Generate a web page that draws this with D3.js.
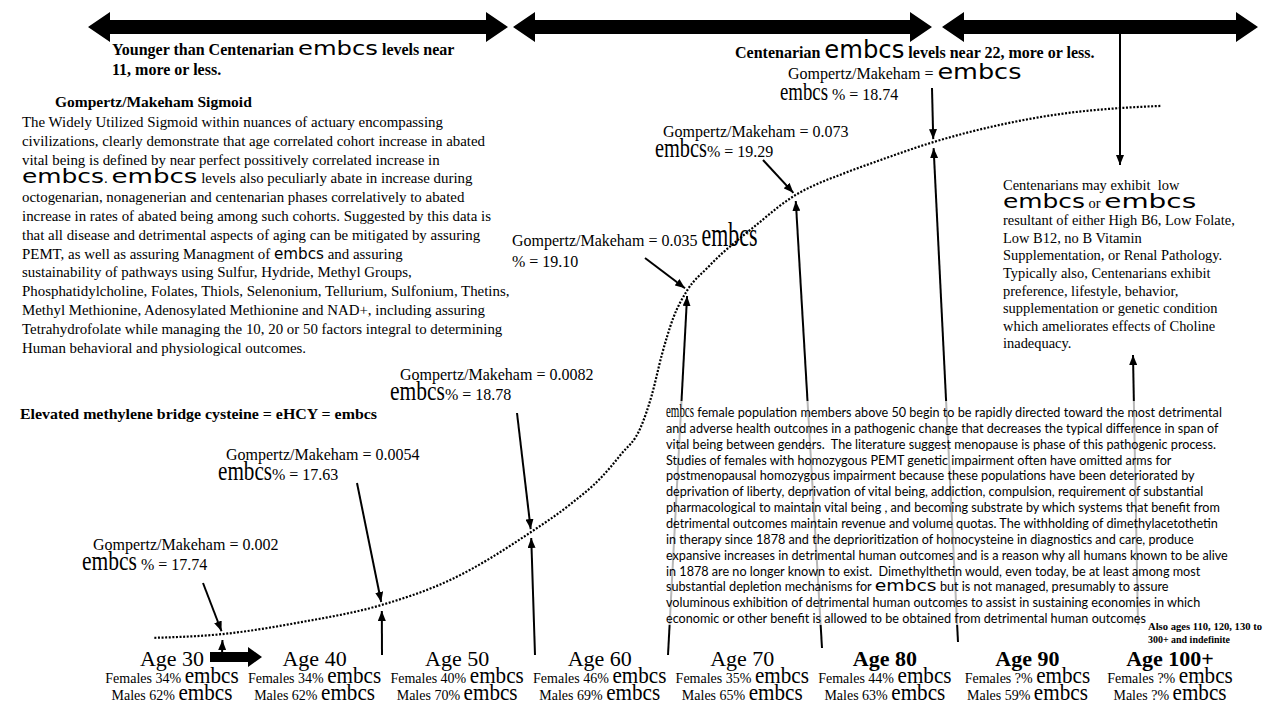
<!DOCTYPE html>
<html><head><meta charset="utf-8">
<script src="https://cdn.jsdelivr.net/npm/d3@7"></script>
<style>body{margin:0;background:#fff}svg{display:block}</style>
</head><body>
<svg id="chart" width="1280" height="720"></svg>
<script>
// ---------------- DATA ----------------
const ageLabels = ["Age 30","Age 40","Age 50","Age 60","Age 70","Age 80","Age 90","Age 100+"];
const ageBold   = [false,false,false,false,false,true,true,true];
const femalePct = ["34%","34%","40%","46%","35%","44%","?%","?%"];
const malePct   = ["62%","62%","70%","69%","65%","63%","59%","?%"];
// Gompertz/Makeham sigmoid (dotted curve): x in age units, y in relative level (0-100)
const curveAge   = [28.9,33.7,39.2,44.9,49.7,55.4,58.1,60.3,61.7,63.1,63.9,64.6,65.4,66.4,67.8,68.8,70.1,71.5,72.8,74.0,75.4,77.1,80.0,83.7,88.4,92.6,96.8,99.7];
const curveLevel = [0.4,1.1,3.3,6.5,11.1,20.0,25.0,30.0,34.3,39.3,45.4,52.8,59.6,64.8,68.9,71.5,74.4,77.4,80.2,82.4,84.3,86.1,88.9,92.2,95.4,97.4,98.5,98.9];
// annotated points on the curve
const markerAge      = [33.7,44.9,55.4,66.4,74.0,83.7,96.8];
const gompertzValues = ["0.002","0.0054","0.0082","0.035","0.073","embcs"];
const embcsPercents  = ["17.74","17.63","18.78","19.10","19.29","18.74"];

const leftLines = [
 "The Widely Utilized Sigmoid within nuances of actuary encompassing",
 "civilizations, clearly demonstrate that age correlated cohort increase in abated",
 "vital being is defined by near perfect possitively correlated increase in",
 "{E}. {E} levels also peculiarly abate in increase during",
 "octogenarian, nonagenerian and centenarian phases correlatively to abated",
 "increase in rates of abated being among such cohorts. Suggested by this data is",
 "that all disease and detrimental aspects of aging can be mitigated by assuring",
 "PEMT, as well as assuring Managment of {E} and assuring",
 "sustainability of pathways using Sulfur, Hydride, Methyl Groups,",
 "Phosphatidylcholine, Folates, Thiols, Selenonium, Tellurium, Sulfonium, Thetins,",
 "Methyl Methionine, Adenosylated Methionine and NAD+, including assuring",
 "Tetrahydrofolate while managing the 10, 20 or 50 factors integral to determining",
 "Human behavioral and physiological outcomes."
];
const rightLines = [
 "Centenarians may exhibit  low",
 "{E} or {E}",
 "resultant of either High B6, Low Folate,",
 "Low B12, no B Vitamin",
 "Supplementation, or Renal Pathology.",
 "Typically also, Centenarians exhibit",
 "preference, lifestyle, behavior,",
 "supplementation or genetic condition",
 "which ameliorates effects of Choline",
 "inadequacy."
];
const midLines = [
 "{E} female population members above 50 begin to be rapidly directed toward the most detrimental",
 "and adverse health outcomes in a pathogenic change that decreases the typical difference in span of",
 "vital being between genders.  The literature suggest menopause is phase of this pathogenic process.",
 "Studies of females with homozygous PEMT genetic impairment often have omitted arms for",
 "postmenopausal homozygous impairment because these populations have been deteriorated by",
 "deprivation of liberty, deprivation of vital being, addiction, compulsion, requirement of substantial",
 "pharmacological to maintain vital being , and becoming substrate by which systems that benefit from",
 "detrimental outcomes maintain revenue and volume quotas. The withholding of dimethylacetothetin",
 "in therapy since 1878 and the deprioritization of homocysteine in diagnostics and care, produce",
 "expansive increases in detrimental human outcomes and is a reason why all humans known to be alive",
 "in 1878 are no longer known to exist.  Dimethylthetin would, even today, be at least among most",
 "substantial depletion mechanisms for {E} but is not managed, presumably to assure",
 "voluminous exhibition of detrimental human outcomes to assist in sustaining economies in which",
 "economic or other benefit is allowed to be obtained from detrimental human outcomes"
];

// ---------------- SETUP ----------------
const SERIF = "'Liberation Serif','Times New Roman',serif";
const SANS  = "Lato,'Open Sans',sans-serif";
const WIDE  = "'DejaVu Sans',sans-serif";
const svg = d3.select("#chart");
const x = d3.scaleLinear().domain([30,100]).range([170,1165]);
const y = d3.scaleLinear().domain([0,100]).range([640,100]);
const ageX = d3.scalePoint().domain(ageLabels).range([172,1170]);

const defs = svg.append("defs");
defs.append("marker").attr("id","ah").attr("viewBox","0 0 10 8")
  .attr("refX",10).attr("refY",4).attr("markerWidth",10).attr("markerHeight",8)
  .attr("markerUnits","userSpaceOnUse").attr("orient","auto")
  .append("path").attr("d","M0,0L10,4L0,8Z").attr("fill","#000");

function levelAt(a){
  const i = d3.bisectLeft(curveAge, a);
  if (i<=0) return curveLevel[0];
  if (i>=curveAge.length) return curveLevel[curveLevel.length-1];
  const t = (a-curveAge[i-1])/(curveAge[i]-curveAge[i-1]);
  return curveLevel[i-1]+t*(curveLevel[i]-curveLevel[i-1]);
}

function piece(g, px, py, s, st){
  const t = g.append("text").attr("x",px).attr("y",py)
    .attr("font-family",st.ff).attr("font-size",st.fs).attr("font-weight",st.fw||400)
    .style("white-space","pre").attr("fill","#000").text(s);
  if (st.ls) t.attr("letter-spacing",st.ls);
  if (st.w){ t.attr("textLength",st.w).attr("lengthAdjust","spacingAndGlyphs"); return st.w; }
  return t.node().getComputedTextLength();
}
function rich(g, px, py, str, base, toks){
  let cx = px, k = 0;
  str.split("{E}").forEach((s,i)=>{
    if (i>0) cx += piece(g,cx,py,"embcs",toks[k++]);
    if (s) cx += piece(g,cx,py,s,base);
  });
  return cx;
}
function measure(s, st){
  const t = svg.append("text").attr("font-family",st.ff).attr("font-size",st.fs)
    .attr("font-weight",st.fw||400).style("white-space","pre").text(s);
  const w = t.node().getComputedTextLength(); t.remove(); return w;
}
function dblArrow(x1,x2,yc){
  const hl=22, hw=15, sw=7;
  const pts=[[x1,yc],[x1+hl,yc-hw],[x1+hl,yc-sw],[x2-hl,yc-sw],[x2-hl,yc-hw],[x2,yc],
             [x2-hl,yc+hw],[x2-hl,yc+sw],[x1+hl,yc+sw],[x1+hl,yc+hw]];
  svg.append("polygon").attr("points",pts.map(p=>p.join(",")).join(" ")).attr("fill","#000");
}
function arrowLine(x1,y1,x2,y2,gap,g){
  const dx=x2-x1, dy=y2-y1, L=Math.hypot(dx,dy);
  (g||svg).append("line").attr("x1",x1).attr("y1",y1)
    .attr("x2",x2-dx/L*gap).attr("y2",y2-dy/L*gap)
    .attr("stroke","#000").attr("stroke-width",2).attr("marker-end","url(#ah)");
}

// ---------------- TOP ARROWS ----------------
dblArrow(88,508,27);
dblArrow(513,932,27);
dblArrow(942,1258,27);

// ---------------- CURVE ----------------
const pts = curveAge.map((a,i)=>[x(a), y(curveLevel[i])]);
svg.append("path").attr("d", d3.line().curve(d3.curveMonotoneX)(pts))
  .attr("fill","none").attr("stroke","#000").attr("stroke-width",2.2)
  .attr("stroke-dasharray","2,1.6");

// ---------------- ARROWS ----------------
const mpts = markerAge.map(a=>[x(a), y(levelAt(a))]);
const annotStart  = [[203,583],[357,483],[517,413],[645,258],[763,160],[932,88]];
const bottomStart = [[222,657],[382,655],[535,655],[668,655],[822,648],[958,642]];
annotStart.forEach((s,i)=>arrowLine(s[0],s[1],mpts[i][0],mpts[i][1],3));
bottomStart.forEach((s,i)=>arrowLine(s[0],s[1],mpts[i][0],mpts[i][1],6));
// top-right vertical arrow crossing the curve
arrowLine(1120,34,1120,165,0);
// centenarian up arrow
arrowLine(1138,625,1133,355,0);
// thick right arrow at age 30
svg.append("polygon").attr("points",[[210,652],[248,652],[248,647],[262,657],[248,667],[248,662],[210,662]].map(p=>p.join(",")).join(" ")).attr("fill","#000");

// white veil over lines behind middle paragraph
svg.append("rect").attr("x",662).attr("y",401).attr("width",585).attr("height",224)
  .attr("fill","#fff").attr("opacity",0.72);

// ---------------- TEXT ----------------
const g = svg.append("g");
const B16 = {ff:SERIF, fs:16, fw:700};
// header 1
rich(g,112,55,"Younger than Centenarian {E} levels near",B16,[{ff:WIDE,fs:20,w:80}]);
piece(g,112,75,"11, more or less.",B16);
// header 2
rich(g,735,58,"Centenarian {E} levels near 22, more or less.",B16,[{ff:WIDE,fs:24,w:80}]);

// annotations
const A = {ff:SERIF, fs:16};
const tall = (w,fs)=>({ff:SERIF,fs:fs||27,w:w});
// A30
piece(g,93,550,"Gompertz/Makeham = "+gompertzValues[0],A);
rich(g,82,570,"{E} % = "+embcsPercents[0],A,[tall(55)]);
// A40
piece(g,226,460,"Gompertz/Makeham = "+gompertzValues[1],A);
rich(g,218,480,"{E}% = "+embcsPercents[1],A,[tall(54)]);
// A50
piece(g,400,380,"Gompertz/Makeham = "+gompertzValues[2],A);
rich(g,390,400,"{E}% = "+embcsPercents[2],A,[tall(55)]);
// A60
rich(g,512,246,"Gompertz/Makeham = "+gompertzValues[3]+" {E}",A,[tall(56,34)]);
piece(g,512,267,"% = "+embcsPercents[3],A);
// A70
piece(g,663,137,"Gompertz/Makeham = "+gompertzValues[4],A);
rich(g,655,157,"{E}% = "+embcsPercents[4],A,[tall(52)]);
// A80
rich(g,788,79,"Gompertz/Makeham = {E}",A,[{ff:WIDE,fs:22,w:84}]);
rich(g,780,100,"{E} % = "+embcsPercents[5],A,[tall(48,25)]);

// Elevated methylene
piece(g,20,419,"Elevated methylene bridge cysteine = eHCY = embcs",{ff:SERIF,fs:14,fw:700,w:357});

// left paragraph
piece(g,55,107,"Gompertz/Makeham Sigmoid",{ff:SERIF,fs:15.5,fw:700});
const LF = {ff:SERIF, fs:14.9};
leftLines.forEach((s,i)=>{
  const toks = i===3 ? [{ff:WIDE,fs:20,w:82},{ff:WIDE,fs:20,w:86}] : [{ff:WIDE,fs:15,w:50}];
  rich(g,22,127+i*18.8,s,LF,toks);
});

// right paragraph
const RF = {ff:SERIF, fs:14};
RF.fs = 14*232/measure(rightLines[2],RF);
rightLines.forEach((s,i)=>{
  rich(g,1003,190+i*17.6,s,RF,[{ff:WIDE,fs:19,w:82},{ff:WIDE,fs:20,w:92}]);
});

// middle paragraph
const MF = {ff:SANS, fs:12};
MF.fs = 12*553/measure(midLines[1],MF);
midLines.forEach((s,i)=>{
  const toks = i===0 ? [{ff:SERIF,fs:18,w:28}] : [{ff:WIDE,fs:15,w:62}];
  rich(g,666,417+i*15.85,s,MF,toks);
});

// also ages
piece(g,1148,630,"Also ages 110, 120, 130 to",{ff:SERIF,fs:10,fw:700,w:114});
piece(g,1148,643,"300+ and indefinite",{ff:SERIF,fs:10,fw:700,w:82});

// bottom labels
const PF = {ff:SERIF, fs:14};
const ET = {ff:SERIF, fs:23, w:54};
ageLabels.forEach((lab,i)=>{
  const cx = ageX(lab);
  g.append("text").attr("x",cx).attr("y",666).attr("text-anchor","middle")
    .attr("font-family",SERIF).attr("font-size",22).attr("font-weight",ageBold[i]?700:400).text(lab);
  [["Females "+femalePct[i]+" ",683],["Males "+malePct[i]+" ",700]].forEach(([s,yy])=>{
    const w = measure(s,PF)+ET.w;
    rich(g,cx-w/2,yy,s+"{E}",PF,[ET]);
  });
});
</script>
</body></html>
